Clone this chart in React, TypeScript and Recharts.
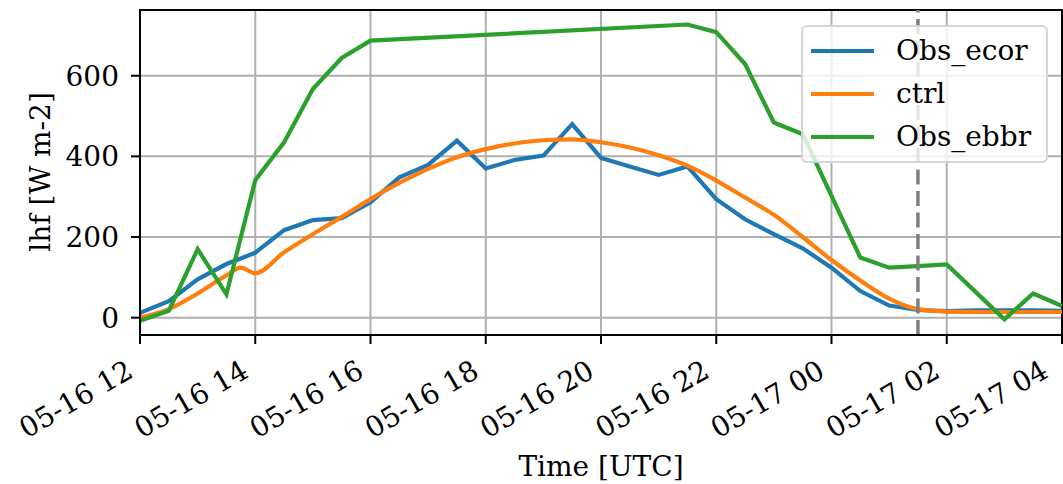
import {
  CartesianGrid,
  Line,
  LineChart,
  ReferenceArea,
  ReferenceLine,
  XAxis,
  YAxis,
} from 'recharts';

// hours since 05-16 12:00 UTC, half-hourly
const obsHours = [
  0, 0.5, 1, 1.5, 2, 2.5, 3, 3.5, 4, 4.5, 5, 5.5, 6, 6.5, 7, 7.5, 8, 8.5, 9, 9.5, 10, 10.5, 11,
  11.5, 12, 12.5, 13, 13.5, 14, 14.5, 15, 15.5, 16,
];
const obsEcor = [
  12, 41, 95, 133, 161, 217, 242, 247, 286, 348, 379, 439, 370, 391, 402, 480, 396, 375, 354, 375,
  294, 244, 207, 172, 124, 66, 30, 19, 16, 18, 18, 18, 17,
];
const obsEbbr: (number | null)[] = [
  -8, 17, 170, 58, 341, 435, 567, 644, 687, null, null, null, null, null, null, null, null, null,
  null, 727, 708, 629, 484, 455, 302, 149, 124, 128, 132, 64, -4, 60, 29,
];

const ctrlHours = [
  0, 0.5, 1, 1.5, 1.75, 2, 2.5, 3, 3.5, 4, 4.5, 5, 5.5, 6, 6.5, 7, 7.5, 8, 8.5, 9, 9.5, 10, 10.5,
  11, 11.5, 12, 12.5, 13, 13.5, 14, 14.5, 15, 15.5, 16,
];
const ctrlValues = [
  0, 21, 60, 105, 124, 110, 162, 207, 250, 294, 334, 369, 398, 418, 432, 440, 442, 435, 422, 403,
  377, 340, 298, 255, 200, 143, 92, 47, 21, 15, 14, 14, 14, 14,
];

const xTicks = [0, 2, 4, 6, 8, 10, 12, 14, 16];
const xTickLabels = [
  '05-16 12', '05-16 14', '05-16 16', '05-16 18', '05-16 20',
  '05-16 22', '05-17 00', '05-17 02', '05-17 04',
];
const yTicks = [0, 200, 400, 600];
const markerHour = 13.5;

const seriesNames = ['Obs_ecor', 'ctrl', 'Obs_ebbr'];
const COLORS = ['#1f77b4', '#ff7f0e', '#2ca02c'];

const FONT = '"DejaVu Serif", serif';
const FS = 28;

const ecorData = obsHours.map((h, i) => ({ h, v: obsEcor[i] }));
const ebbrData = obsHours.map((h, i) => ({ h, v: obsEbbr[i] }));
const ctrlData = ctrlHours.map((h, i) => ({ h, v: ctrlValues[i] }));

function XTick(props: any) {
  const { x, y, payload } = props;
  const idx = xTicks.indexOf(payload.value);
  return (
    <text
      x={x - 5}
      y={y + 32}
      textAnchor="end"
      fontFamily={FONT}
      fontSize={FS}
      fill="#000"
      transform={`rotate(-30, ${x - 5}, ${y + 32})`}
    >
      {xTickLabels[idx]}
    </text>
  );
}

// legend drawn as an overlay so it doesn't eat into the plot area
function LegendBox() {
  return (
    <div
      style={{
        position: 'absolute',
        left: 801,
        top: 25,
        width: 247,
        height: 138,
        boxSizing: 'border-box',
        background: 'rgba(255,255,255,0.8)',
        border: '2px solid rgba(204,204,204,0.8)',
        borderRadius: 6,
        padding: '2px 0 0 8px',
        fontFamily: FONT,
        fontSize: FS,
      }}
    >
      {seriesNames.map((name, i) => (
        <div key={name} style={{ display: 'flex', alignItems: 'center', height: 43.3 }}>
          <div style={{ width: 63, height: 4, background: COLORS[i], marginRight: 22 }} />
          <span style={{ lineHeight: 1 }}>{name}</span>
        </div>
      ))}
    </div>
  );
}

export default function App() {
  return (
    <div style={{ position: 'absolute', left: 0, top: 0, width: 1063, height: 484, background: '#fff' }}>
      <LineChart width={1063} height={484} margin={{ top: 10, right: 1, left: 40, bottom: 0 }}>
        <CartesianGrid stroke="#b0b0b0" strokeWidth={2} />
        <XAxis
          dataKey="h"
          type="number"
          domain={[0, 16]}
          ticks={xTicks}
          allowDuplicatedCategory={false}
          height={149}
          tickSize={9}
          tickMargin={0}
          axisLine={{ stroke: '#000', strokeWidth: 2 }}
          tickLine={{ stroke: '#000', strokeWidth: 2 }}
          tick={<XTick />}
          label={{
            content: () => (
              <text x={601} y={476} textAnchor="middle" fontFamily={FONT} fontSize={FS} fill="#000">
                Time [UTC]
              </text>
            ),
          }}
        />
        <YAxis
          type="number"
          domain={[-43, 763]}
          ticks={yTicks}
          width={100}
          tickSize={9}
          tickMargin={12}
          axisLine={{ stroke: '#000', strokeWidth: 2 }}
          tickLine={{ stroke: '#000', strokeWidth: 2 }}
          tick={{ fontFamily: FONT, fontSize: FS, fill: '#000' }}
          label={{
            content: () => (
              <text
                x={40}
                y={172}
                textAnchor="middle"
                dominantBaseline="central"
                fontFamily={FONT}
                fontSize={FS}
                fill="#000"
                transform="rotate(-90, 40, 172)"
              >
                lhf [W m-2]
              </text>
            ),
          }}
        />
        <Line
          data={ecorData}
          dataKey="v"
          name={seriesNames[0]}
          stroke={COLORS[0]}
          strokeWidth={4.2}
          dot={false}
          type="linear"
          isAnimationActive={false}
        />
        <Line
          data={ctrlData}
          dataKey="v"
          name={seriesNames[1]}
          stroke={COLORS[1]}
          strokeWidth={4.2}
          dot={false}
          type="monotone"
          isAnimationActive={false}
        />
        <Line
          data={ebbrData}
          dataKey="v"
          name={seriesNames[2]}
          stroke={COLORS[2]}
          strokeWidth={4.2}
          dot={false}
          type="linear"
          connectNulls
          isAnimationActive={false}
        />
        <ReferenceLine
          x={markerHour}
          stroke="#7f7f7f"
          strokeWidth={3.5}
          strokeDasharray="15 6.5"
        />
        <ReferenceArea x1={0} x2={16} y1={-43} y2={763} fill="none" stroke="#000" strokeWidth={2} />
      </LineChart>
      <LegendBox />
    </div>
  );
}
